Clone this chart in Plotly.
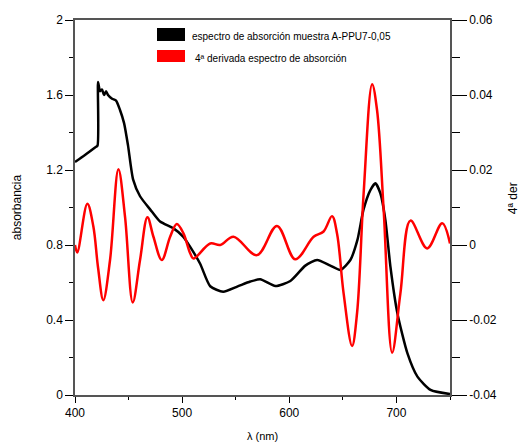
import plotly.graph_objects as go

# absorption spectrum (left axis)
wl_abs = [400, 409.3, 418.7, 421, 421.5, 423.4, 425.2, 427.1, 429, 430.8, 434.6, 438.3,
          442, 445.8, 449.5, 454.2, 460.7, 470.1, 479.4, 491.6, 500.9, 507.5, 516.8,
          526.2, 538.3, 551.4, 563.6, 572.9, 587, 601, 615, 626, 638.3, 647.7, 657,
          663.6, 669.2, 675.7, 680.4, 685, 689.7, 694.4, 700.9, 710.3, 719.6, 731.8, 750]
absorb = [1.243, 1.28, 1.32, 1.33, 1.67, 1.62, 1.63, 1.60, 1.62, 1.60, 1.58, 1.57,
          1.52, 1.45, 1.33, 1.15, 1.06, 0.99, 0.925, 0.89, 0.845, 0.79, 0.70,
          0.58, 0.551, 0.578, 0.605, 0.617, 0.581, 0.608, 0.69, 0.72, 0.69, 0.667, 0.72,
          0.827, 0.987, 1.093, 1.129, 1.076, 0.933, 0.684, 0.436, 0.222, 0.098, 0.027, 0.005]

# 4th derivative (right axis)
wl_der = [400, 402.1, 411.5, 417.1, 421.5, 426.4, 432.7, 440.5, 446.7, 453.9, 460.7,
          467.6, 473.2, 481, 488.8, 495, 501.2, 507.5, 510.6, 526.2, 535.5, 547.9,
          569.8, 588.5, 605.6, 622.7, 632, 639.9, 644.6, 650.7, 658.6, 663.3, 669.4,
          677.3, 681.9, 688.1, 696, 703.7, 713.1, 728.7, 742.7, 750]
deriv = [0.0, -0.002, 0.011, 0.005, -0.006, -0.0147, -0.004, 0.0202, 0.0075, -0.0153, -0.004,
         0.0074, 0.0022, -0.004, 0.0022, 0.0056, 0.0031, -0.0022, -0.0036, 0.0004, 0.0, 0.0022,
         -0.0027, 0.0051, -0.0038, 0.0022, 0.0036, 0.0077, 0.003, -0.0129, -0.0269, -0.018, 0.0138,
         0.0429, 0.036, 0.0093, -0.0287, -0.0129, 0.0065, -0.0009, 0.0058, 0.0004]

left_ticks = [0, 0.4, 0.8, 1.2, 1.6, 2]
left_labels = ["0", "0.4", "0.8", "1.2", "1.6", "2"]
right_ticks = [-0.04, -0.02, 0, 0.02, 0.04, 0.06]
right_labels = ["-0.04", "-0.02", "0", "0.02", "0.04", "0.06"]

legend_names = ["espectro de absorción muestra A-PPU7-0,05",
                "4ª derivada espectro de absorción"]

font = "Liberation Sans, Arial, sans-serif"
axcol = "#555"

fig = go.Figure()
fig.add_trace(go.Scatter(x=wl_abs, y=absorb, mode="lines",
                         line=dict(color="black", width=2.5, shape="spline", smoothing=0.6),
                         yaxis="y"))
fig.add_trace(go.Scatter(x=wl_der, y=deriv, mode="lines",
                         line=dict(color="red", width=2.5, shape="spline", smoothing=1.0),
                         yaxis="y2"))

# legend drawn by hand (filled boxes like the original)
fig.add_shape(type="rect", xref="paper", yref="paper", x0=0.2187, x1=0.2933, y0=0.944, y1=0.9787,
              fillcolor="black", line_width=0)
fig.add_shape(type="rect", xref="paper", yref="paper", x0=0.2187, x1=0.2933, y0=0.888, y1=0.92,
              fillcolor="red", line_width=0)
fig.add_annotation(xref="paper", yref="paper", x=0.307, y=0.957, text=legend_names[0],
                   showarrow=False, xanchor="left", yanchor="middle", font=dict(size=10, color="black"))
fig.add_annotation(xref="paper", yref="paper", x=0.315, y=0.898, text=legend_names[1],
                   showarrow=False, xanchor="left", yanchor="middle", font=dict(size=10, color="black"))

# right axis title (clipped in the original)
fig.add_annotation(xref="paper", yref="paper", x=1.168, y=0.525, text="4ª der", textangle=-90,
                   showarrow=False, xanchor="center", yanchor="middle", font=dict(size=12, color="black"))

# page body adds ~8px offset, so the figure is made 8px smaller on the left/top
fig.update_layout(
    width=518, height=436,
    margin=dict(l=67, r=76, t=12, b=49, autoexpand=False),
    paper_bgcolor="white", plot_bgcolor="white",
    showlegend=False,
    font=dict(family=font, size=12, color="black"),
    xaxis=dict(range=[400, 750], dtick=100, tick0=400, ticks="outside", ticklen=6,
               tickcolor="black", showline=True, linecolor=axcol, linewidth=1.5, mirror=True,
               showgrid=False, zeroline=False,
               minor=dict(dtick=50, ticks="outside", ticklen=3, tickcolor="black"),
               title=dict(text="λ (nm)", font=dict(size=11), standoff=13)),
    yaxis=dict(range=[0, 2], tickvals=left_ticks, ticktext=left_labels, ticks="outside", ticklen=8,
               tickcolor="black", showline=True, linecolor=axcol, linewidth=1.5,
               showgrid=False, zeroline=False,
               minor=dict(dtick=0.2, tick0=0, ticks="outside", ticklen=4, tickcolor="black"),
               title=dict(text="absorbancia", font=dict(size=12), standoff=22)),
    yaxis2=dict(range=[-0.04, 0.06], tickvals=right_ticks, ticktext=right_labels,
                overlaying="y", side="right",
                ticks="outside", ticklen=15, tickcolor="black", showline=True,
                linecolor=axcol, linewidth=1.5, showgrid=False, zeroline=False,
                minor=dict(dtick=0.01, tick0=0, ticks="outside", ticklen=8, tickcolor="black")),
)

fig.write_html("out.html")
